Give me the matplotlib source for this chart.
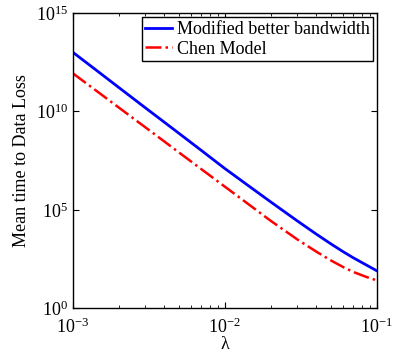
import numpy as np
import matplotlib
matplotlib.use("Agg")
import matplotlib.pyplot as plt
from matplotlib.ticker import NullLocator, NullFormatter

plt.rcParams['font.family'] = ['Liberation Serif', 'DejaVu Serif']
plt.rcParams['mathtext.fontset'] = 'stix'

# values (log10 of mean time)
lam = [1e-3, 1.5e-3, 2e-3, 3e-3, 4e-3, 5e-3, 7e-3, 1e-2, 1.5e-2, 2e-2,
       3e-2, 4e-2, 5e-2, 6e-2, 7e-2, 8.5e-2, 1e-1]
blue_log = [13.0, 11.96, 11.22, 10.18, 9.45, 8.88, 8.02, 7.1, 6.11, 5.41,
            4.44, 3.77, 3.27, 2.88, 2.57, 2.21, 1.91]
red_log = [11.93, 10.92, 10.2, 9.19, 8.47, 7.91, 7.07, 6.18, 5.17, 4.45,
           3.5, 2.88, 2.43, 2.1, 1.85, 1.6, 1.42]

labels = ["Modified better bandwidth", "Chen Model"]

fig = plt.figure(figsize=(3.95, 3.54), dpi=100)
ax = fig.add_axes([0.1848, 0.129, 0.9537 - 0.1848, 0.9633 - 0.129])

ax.plot(lam, np.power(10.0, blue_log), '-', color='#0000ff', lw=2.0, label=labels[0])
ax.plot(lam, np.power(10.0, red_log), '-.', color='#ff0000', lw=1.8, label=labels[1])

ax.set_xscale('log')
ax.set_yscale('log')
ax.set_xlim(1e-3, 1e-1)
ax.set_ylim(1e0, 1e15)
ax.set_yticks([1e0, 1e5, 1e10, 1e15])
ax.yaxis.set_minor_locator(NullLocator())
ax.set_xticks([1e-3, 1e-2, 1e-1])
ax.xaxis.set_minor_formatter(NullFormatter())

ax.tick_params(which='both', direction='in', top=True, right=True, labelsize=13)
ax.tick_params(which='major', length=4)
ax.tick_params(axis='x', which='major', pad=7)
ax.tick_params(which='minor', length=2)
for s in ax.spines.values():
    s.set_linewidth(1.0)

ax.set_xlabel("λ", fontsize=13, labelpad=-1)
ax.set_ylabel("Mean time to Data Loss", fontsize=13, labelpad=4)

leg = ax.legend(loc='upper right', bbox_to_anchor=(373.3 / 395, 1 - 17.3 / 354),
                bbox_transform=fig.transFigure, fontsize=13, fancybox=False,
                edgecolor='black', framealpha=1, borderaxespad=0,
                handlelength=1.5, handletextpad=0.25, borderpad=0.2, labelspacing=0.15)
leg.get_frame().set_linewidth(1.0)

fig.savefig("out.png", dpi=100)
